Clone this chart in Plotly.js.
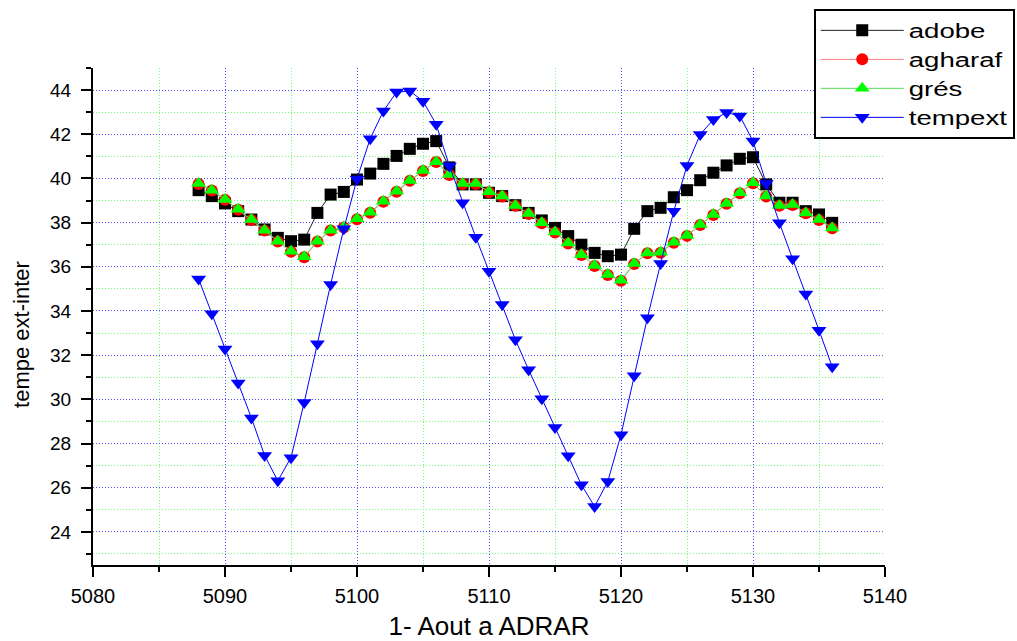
<!DOCTYPE html>
<html>
<head>
<meta charset="utf-8">
<script src="https://cdn.plot.ly/plotly-3.0.1.min.js"></script>
<style>
html,body{margin:0;padding:0;background:#fff;}
#chart{width:1017px;height:641px;}
.legendtext{transform:scaleX(1.38);transform-box:fill-box;transform-origin:0% 50%;}
</style>
</head>
<body>
<div id="chart"></div>
<script>
const days = [5088,5089,5090,5091,5092,5093,5094,5095,5096,5097,5098,5099,5100,5101,5102,5103,5104,5105,5106,5107,5108,5109,5110,5111,5112,5113,5114,5115,5116,5117,5118,5119,5120,5121,5122,5123,5124,5125,5126,5127,5128,5129,5130,5131,5132,5133,5134,5135,5136];

const adobe = [39.47,39.2,38.87,38.52,38.14,37.69,37.31,37.16,37.23,38.44,39.27,39.39,39.95,40.22,40.66,41.02,41.34,41.57,41.69,40.5,39.73,39.73,39.35,39.2,38.79,38.44,38.1,37.76,37.39,37.0,36.63,36.48,36.55,37.72,38.52,38.67,39.15,39.47,39.92,40.26,40.59,40.89,40.96,39.73,38.9,38.9,38.52,38.37,37.99];

const agharaf = [39.75,39.45,39.03,38.58,38.12,37.64,37.14,36.68,36.43,37.14,37.64,37.78,38.15,38.45,38.95,39.4,39.89,40.34,40.74,40.16,39.75,39.75,39.38,39.18,38.76,38.39,37.97,37.55,37.06,36.53,36.04,35.63,35.37,36.13,36.61,36.64,37.09,37.4,37.89,38.35,38.85,39.33,39.78,39.18,38.76,38.8,38.42,38.12,37.74];

const gres = [39.77,39.47,39.05,38.6,38.14,37.66,37.16,36.7,36.45,37.16,37.66,37.8,38.17,38.47,38.97,39.42,39.91,40.36,40.76,40.18,39.77,39.77,39.4,39.2,38.78,38.41,37.99,37.57,37.08,36.55,36.06,35.65,35.39,36.15,36.63,36.66,37.11,37.42,37.91,38.37,38.87,39.35,39.8,39.2,38.78,38.82,38.44,38.14,37.76];

const tempext = [35.45,33.88,32.28,30.74,29.16,27.46,26.31,27.36,29.86,32.52,35.2,37.72,39.98,41.8,43.05,43.91,43.96,43.5,42.45,40.56,38.9,37.34,35.8,34.29,32.7,31.34,30.03,28.73,27.45,26.13,25.15,26.28,28.4,31.07,33.69,36.15,38.52,40.59,41.99,42.67,42.98,42.83,41.69,39.77,37.99,36.36,34.77,33.13,31.47];

const seriesNames = ['adobe','agharaf','grés','tempext'];
const xTitle = '1- Aout a ADRAR';
const yTitle = 'tempe ext-inter';

const FONT = 'Liberation Sans, Arial, sans-serif';

const traces = [
  {x: days, y: adobe, name: seriesNames[0], type: 'scatter', mode: 'lines+markers',
   line: {color: '#202020', width: 1}, marker: {symbol: 'square', size: 12, color: '#000000'}},
  {x: days, y: agharaf, name: seriesNames[1], type: 'scatter', mode: 'lines+markers',
   line: {color: '#ff8080', width: 1}, marker: {symbol: 'circle', size: 12, color: '#ff0000'}},
  {x: days, y: gres, name: seriesNames[2], type: 'scatter', mode: 'lines+markers',
   line: {color: '#55dd55', width: 1}, marker: {symbol: 'triangle-up', size: 13, color: '#00ff00'}},
  {x: days, y: tempext, name: seriesNames[3], type: 'scatter', mode: 'lines+markers',
   line: {color: '#0000ff', width: 1}, marker: {symbol: 'triangle-down', size: 13, color: '#0000ff'}}
];

const layout = {
  width: 1017, height: 641,
  margin: {l: 93, r: 132, t: 68, b: 76, pad: 0, autoexpand: false},
  paper_bgcolor: '#ffffff', plot_bgcolor: '#ffffff',
  font: {family: FONT, size: 19, color: '#000000'},
  showlegend: true,
  legend: {x: 0.910, y: 1.119, xanchor: 'left', yanchor: 'top',
           bgcolor: '#ffffff', bordercolor: '#000000', borderwidth: 2,
           font: {family: FONT, size: 20, color: '#000000'}, itemwidth: 83},
  xaxis: {
    range: [5080, 5140], dtick: 10, tick0: 5080,
    showline: true, linecolor: '#000000', linewidth: 2,
    ticks: 'outside', ticklen: 10, tickwidth: 2, tickcolor: '#000000',
    showgrid: true, gridcolor: '#5050ff', griddash: '1px,2px', gridwidth: 1,
    zeroline: false, mirror: false,
    tickfont: {family: FONT, size: 20},
    ticklabelstandoff: 2,
    minor: {dtick: 5, ticks: 'outside', ticklen: 5, tickwidth: 2, tickcolor: '#000000',
            showgrid: true, gridcolor: '#70ff70', griddash: '1px,2px', gridwidth: 1},
    title: {text: xTitle, font: {family: FONT, size: 26}, standoff: 14}
  },
  yaxis: {
    range: [22.5, 45], dtick: 2, tick0: 24,
    showline: true, linecolor: '#000000', linewidth: 2,
    ticks: 'outside', ticklen: 10, tickwidth: 2, tickcolor: '#000000',
    showgrid: true, gridcolor: '#5050ff', griddash: '1px,2px', gridwidth: 1,
    zeroline: false, mirror: false,
    tickfont: {family: FONT, size: 19},
    ticklabelstandoff: 6,
    minor: {dtick: 1, ticks: 'outside', ticklen: 5, tickwidth: 2, tickcolor: '#000000',
            showgrid: true, gridcolor: '#70ff70', griddash: '1px,2px', gridwidth: 1}
  },
  annotations: [
    {text: yTitle, xref: 'paper', yref: 'paper', x: -0.0896, y: 0.463,
     xanchor: 'center', yanchor: 'middle', textangle: -90, showarrow: false,
     font: {family: FONT, size: 22, color: '#000000'}}
  ]
};

Plotly.newPlot('chart', traces, layout, {displayModeBar: false, staticPlot: true});
</script>
</body>
</html>
